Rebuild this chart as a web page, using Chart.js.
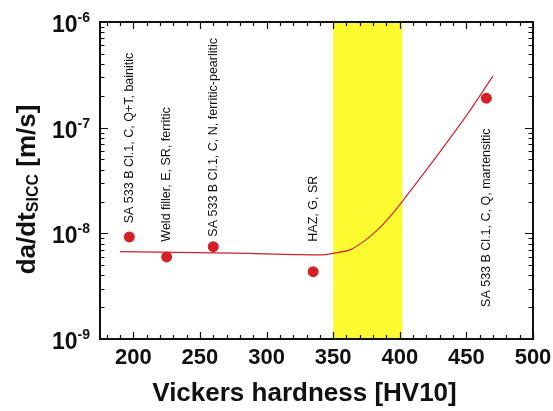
<!DOCTYPE html>
<html>
<head>
<meta charset="utf-8">
<script src="https://cdn.jsdelivr.net/npm/chart.js@4/dist/chart.umd.min.js"></script>
<style>
  html, body { margin: 0; padding: 0; background: #ffffff; }
  #wrap { width: 553px; height: 411px; }
</style>
</head>
<body>
<div id="wrap"><canvas id="c" width="553" height="411"></canvas></div>
<script>
// Measured crack growth rates vs. hardness
const hardness = [197, 225, 260, 335, 465];
const growthRate = [9.25e-9, 5.98e-9, 7.48e-9, 4.34e-9, 1.9e-7];
const materialLabels = [
  'SA 533 B Cl.1, C, Q+T, bainitic',
  'Weld filler, E, SR, ferritic',
  'SA 533 B Cl.1, C, N, ferritic-pearlitic',
  'HAZ, G, SR',
  'SA 533 B Cl.1, C, Q, martensitic'
];
// rate at which each rotated label starts (its lower end)
const labelStartRate = [1.245e-8, 8.34e-9, 9.3e-9, 8.34e-9, 2.01e-9];

// Trend curve
const trendHardness = [190, 275, 340, 351, 362.5, 372.5, 382.5, 392.5, 402.5, 415, 427.5, 440, 452.5, 470];
const trendRate = [6.7e-9, 6.5e-9, 6.25e-9, 6.5e-9, 6.97e-9, 8.3e-9, 1.054e-8, 1.43e-8,
                   2.05e-8, 3.29e-8, 5.32e-8, 8.67e-8, 1.44e-7, 3.09e-7];

// Critical hardness range
const criticalRange = [350, 402];

// Axes
const xTickValues = [200, 250, 300, 350, 400, 450, 500];
const xTickLabels = ['200', '250', '300', '350', '400', '450', '500'];
const yTickValues = [1e-9, 1e-8, 1e-7, 1e-6];
const yTickExponents = ['-9', '-8', '-7', '-6'];

const RED = '#d42027';
const INK = '#111111';
const FONT = '"Liberation Sans", Arial, sans-serif';

const axesPlugin = {
  id: 'axesDecor',
  beforeDatasetsDraw(chart) {
    const { ctx, chartArea: a, scales: { x } } = chart;
    const x0 = x.getPixelForValue(criticalRange[0]);
    const x1 = x.getPixelForValue(criticalRange[1]);
    ctx.save();
    ctx.fillStyle = '#fbfb30';
    ctx.fillRect(x0, a.top, x1 - x0, a.bottom - a.top);
    ctx.restore();
  },
  afterDatasetsDraw(chart) {
    const { ctx, chartArea: a, scales: { x, y } } = chart;
    ctx.save();

    // material labels, rotated
    ctx.fillStyle = INK;
    ctx.font = '12.5px ' + FONT;
    ctx.textAlign = 'left';
    ctx.textBaseline = 'middle';
    materialLabels.forEach((t, i) => {
      ctx.save();
      ctx.translate(x.getPixelForValue(hardness[i]), y.getPixelForValue(labelStartRate[i]));
      ctx.rotate(-Math.PI / 2);
      ctx.fillText(t, 0, 0);
      ctx.restore();
    });

    // ticks (inward, on all four sides)
    ctx.strokeStyle = INK;
    ctx.lineWidth = 1.2;
    ctx.beginPath();
    for (let v = 180; v <= 500; v += 10) {
      const px = Math.round(x.getPixelForValue(v)) + 0.5;
      const major = v % 50 === 0;
      const len = major ? 7 : 4;
      ctx.moveTo(px, a.bottom); ctx.lineTo(px, a.bottom - len);
      ctx.moveTo(px, a.top); ctx.lineTo(px, a.top + len);
    }
    for (let e = -9; e <= -6; e++) {
      for (let m = 1; m <= 9; m++) {
        const v = m * Math.pow(10, e);
        if (v > 1e-6 * 1.0001) break;
        const py = Math.round(y.getPixelForValue(v)) + 0.5;
        const len = m === 1 ? 8 : 4.5;
        ctx.moveTo(a.left, py); ctx.lineTo(a.left + len, py);
        ctx.moveTo(a.right, py); ctx.lineTo(a.right - len, py);
      }
    }
    ctx.stroke();

    // frame
    ctx.lineWidth = 2;
    ctx.strokeRect(a.left, a.top, a.right - a.left, a.bottom - a.top);

    // x tick labels
    ctx.fillStyle = INK;
    ctx.font = 'bold 22px ' + FONT;
    ctx.textAlign = 'center';
    ctx.textBaseline = 'alphabetic';
    xTickValues.forEach((v, i) => {
      ctx.fillText(xTickLabels[i], x.getPixelForValue(v), a.bottom + 25);
    });

    // y tick labels: 10 with superscript exponent
    ctx.textAlign = 'left';
    yTickValues.forEach((v, i) => {
      const py = y.getPixelForValue(v);
      ctx.font = 'bold 14px ' + FONT;
      const ws = ctx.measureText(yTickExponents[i]).width;
      ctx.font = 'bold 23px ' + FONT;
      const wb = ctx.measureText('10').width;
      const right = a.left - 10;
      ctx.fillText('10', right - ws - wb, py + 10);
      ctx.font = 'bold 14px ' + FONT;
      ctx.fillText(yTickExponents[i], right - ws, py);
    });

    // x axis title
    ctx.font = 'bold 26px ' + FONT;
    ctx.textAlign = 'center';
    ctx.fillText('Vickers hardness [HV10]', (a.left + a.right) / 2 - 12, a.bottom + 62);

    // y axis title with subscript
    const parts = [
      { t: 'da/dt', f: 'bold 26px ' + FONT, dy: 0 },
      { t: 'SICC', f: 'bold 16px ' + FONT, dy: 3 },
      { t: ' [m/s]', f: 'bold 26px ' + FONT, dy: 0 }
    ];
    let total = 0;
    parts.forEach(p => { ctx.font = p.f; p.w = ctx.measureText(p.t).width; total += p.w; });
    ctx.save();
    ctx.translate(35, (a.top + a.bottom) / 2 + 9);
    ctx.rotate(-Math.PI / 2);
    ctx.textAlign = 'left';
    let cx = -total / 2;
    parts.forEach(p => { ctx.font = p.f; ctx.fillText(p.t, cx, p.dy); cx += p.w; });
    ctx.restore();

    ctx.restore();
  }
};

new Chart(document.getElementById('c'), {
  type: 'scatter',
  data: {
    datasets: [
      {
        type: 'line',
        data: trendHardness.map((h, i) => ({ x: h, y: trendRate[i] })),
        borderColor: RED,
        borderWidth: 1.2,
        pointRadius: 0,
        fill: false,
        tension: 0.3
      },
      {
        type: 'scatter',
        data: hardness.map((h, i) => ({ x: h, y: growthRate[i] })),
        backgroundColor: RED,
        borderWidth: 0,
        pointRadius: 5.5
      }
    ]
  },
  options: {
    responsive: false,
    animation: false,
    layout: { padding: { left: 100, right: 20, top: 22, bottom: 72 } },
    plugins: { legend: { display: false }, tooltip: { enabled: false } },
    scales: {
      x: { type: 'linear', min: 175, max: 500, display: false },
      y: { type: 'logarithmic', min: 1e-9, max: 1e-6, display: false }
    }
  },
  plugins: [axesPlugin]
});
</script>
</body>
</html>
